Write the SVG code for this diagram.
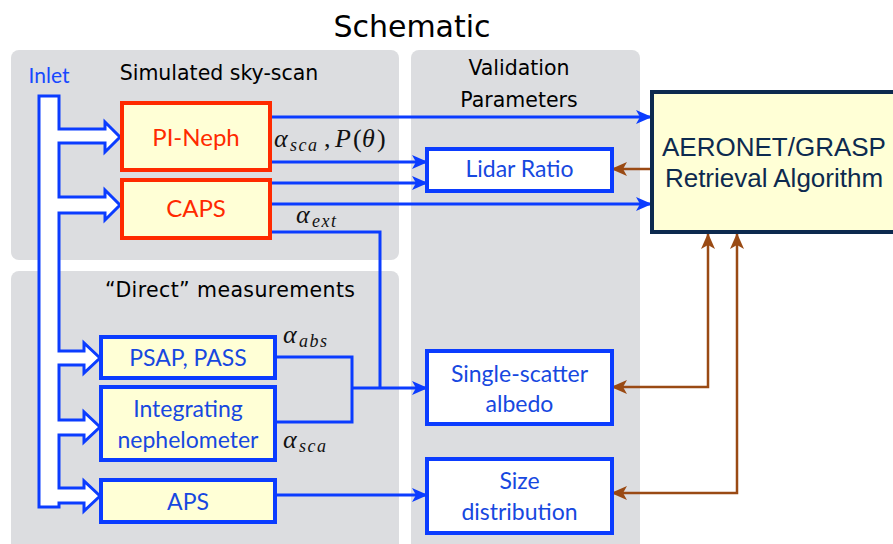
<svg xmlns="http://www.w3.org/2000/svg" width="893" height="544" viewBox="0 0 893 544">
<style>
.panel{fill:#dcdde0}
.plabel{font-family:"DejaVu Sans",sans-serif;font-size:20.5px;fill:#000;text-anchor:middle}
.redbox{fill:#ffffd6;stroke:#ff2a00;stroke-width:4}
.bluebox{fill:#ffffd6;stroke:#0b3cff;stroke-width:4}
.valbox{fill:#fff;stroke:#0b3cff;stroke-width:4}
.btxt{font-family:"Lato","Open Sans",sans-serif;font-size:23px;text-anchor:middle;fill:#1748e0}
.rtxt{font-family:"Lato","Open Sans",sans-serif;font-size:24px;text-anchor:middle;fill:#ff2a00}
.bl{fill:none;stroke:#0b3cff;stroke-width:3}
.br{fill:none;stroke:#9a4a14;stroke-width:2.5}
.math{font-family:"Liberation Serif",serif;font-style:italic;font-size:26px;fill:#111}
.sub{font-size:18px;letter-spacing:1.5px}
.rom{font-style:normal}
</style>
<defs>
<marker id="ab" markerUnits="userSpaceOnUse" markerWidth="16" markerHeight="14" refX="15" refY="7" orient="auto-start-reverse" viewBox="0 0 16 14">
<path d="M0,0 L16,7 L0,14 L4,7 Z" fill="#0b3cff"/>
</marker>
<marker id="ar" markerUnits="userSpaceOnUse" markerWidth="16" markerHeight="14" refX="15" refY="7" orient="auto-start-reverse" viewBox="0 0 16 14">
<path d="M0,0 L16,7 L0,14 L4,7 Z" fill="#9a4a14"/>
</marker>
</defs>
<rect width="893" height="544" fill="#fff"/>
<text x="412" y="37" font-family="DejaVu Sans, sans-serif" font-size="30" text-anchor="middle" fill="#000">Schematic</text>
<g id="panels">
<rect class="panel" x="11" y="50" width="388" height="210" rx="8"/>
<rect class="panel" x="11" y="271" width="388" height="290" rx="8"/>
<rect class="panel" x="411" y="50" width="229" height="510" rx="8"/>
<text class="plabel" x="219" y="80">Simulated sky-scan</text>
<text class="plabel" x="519" y="75">Validation</text>
<text class="plabel" x="519" y="107">Parameters</text>
<text class="plabel" x="230" y="297" textLength="250">“Direct”  measurements</text>
</g>
<g id="inlet">
<text x="49" y="83" font-family="Lato, 'Open Sans', sans-serif" font-size="21" text-anchor="middle" fill="#1748ff">Inlet</text>
<path d="M39,96 H59 V129 H105 V122 L120,137 L105,152 V143 H59 V197 H105 V190 L120,205 L105,220 V213 H59 V351 H84 V343 L100,358 L84,373 V365 H59 V420 H84 V412 L100,427 L84,442 V435 H59 V488 H84 V481 L100,496 L84,511 V503 H59 V507 H39 Z" fill="#fff" stroke="#0b3cff" stroke-width="3" stroke-linejoin="miter"/>
</g>
<g id="connectors">
<path class="bl" d="M270,117 H651" marker-end="url(#ab)"/>
<path class="bl" d="M270,162 H427" marker-end="url(#ab)"/>
<path class="bl" d="M270,183 H427" marker-end="url(#ab)"/>
<path class="bl" d="M270,204 H651" marker-end="url(#ab)"/>
<path class="bl" d="M270,232 H380 V388"/>
<path class="bl" d="M275,357 H352 V422 H275"/>
<path class="bl" d="M352,388 H427" marker-end="url(#ab)"/>
<path class="bl" d="M275,495 H427" marker-end="url(#ab)"/>
<path class="br" d="M652,169 H612" marker-end="url(#ar)"/>
<path class="br" d="M708,234 V387 H612" marker-start="url(#ar)" marker-end="url(#ar)"/>
<path class="br" d="M737,234 V493 H612" marker-start="url(#ar)" marker-end="url(#ar)"/>
</g>
<g id="labels">
<text class="math" y="147"><tspan x="274">α</tspan><tspan class="sub" x="290" dy="4">sca</tspan><tspan class="rom" x="324" dy="-4">,</tspan><tspan x="335">P</tspan><tspan class="rom" x="353">(</tspan><tspan x="362">θ</tspan><tspan class="rom" x="377">)</tspan></text>
<text class="math" y="223"><tspan x="296">α</tspan><tspan class="sub" x="312" dy="4">ext</tspan></text>
<text class="math" y="343"><tspan x="283">α</tspan><tspan class="sub" x="299" dy="4">abs</tspan></text>
<text class="math" y="448"><tspan x="283">α</tspan><tspan class="sub" x="299" dy="4">sca</tspan></text>
</g>
<g id="pineph">
<rect class="redbox" x="122" y="103" width="148" height="67"/>
<text class="rtxt" x="196" y="146">PI-Neph</text>
</g>
<g id="caps">
<rect class="redbox" x="122" y="180" width="148" height="58"/>
<text class="rtxt" x="196" y="217">CAPS</text>
</g>
<g id="psap">
<rect class="bluebox" x="101" y="337" width="174" height="41"/>
<text class="btxt" x="188" y="366">PSAP, PASS</text>
</g>
<g id="neph">
<rect class="bluebox" x="101" y="387" width="174" height="73"/>
<text class="btxt" x="188" y="417">Integrating</text>
<text class="btxt" x="188" y="448">nephelometer</text>
</g>
<g id="aps">
<rect class="bluebox" x="101" y="480" width="174" height="42"/>
<text class="btxt" x="188" y="510">APS</text>
</g>
<g id="lidar">
<rect class="valbox" x="427" y="149" width="185" height="42"/>
<text class="btxt" x="519.5" y="177">Lidar Ratio</text>
</g>
<g id="ssa">
<rect class="valbox" x="427" y="351" width="185" height="73"/>
<text class="btxt" x="519.5" y="382">Single-scatter</text>
<text class="btxt" x="519.5" y="412">albedo</text>
</g>
<g id="size">
<rect class="valbox" x="427" y="459" width="185" height="74"/>
<text class="btxt" x="519.5" y="489">Size</text>
<text class="btxt" x="519.5" y="520">distribution</text>
</g>
<g id="aeronet">
<rect x="652" y="92" width="260" height="140" fill="#ffffd6" stroke="#0d2a4f" stroke-width="4"/>
<text x="774" y="156" font-family="Liberation Sans, Arial, sans-serif" font-size="26" text-anchor="middle" fill="#0d2a4f">AERONET/GRASP</text>
<text x="774" y="187" font-family="Liberation Sans, Arial, sans-serif" font-size="26" text-anchor="middle" fill="#0d2a4f">Retrieval Algorithm</text>
</g>
</svg>
